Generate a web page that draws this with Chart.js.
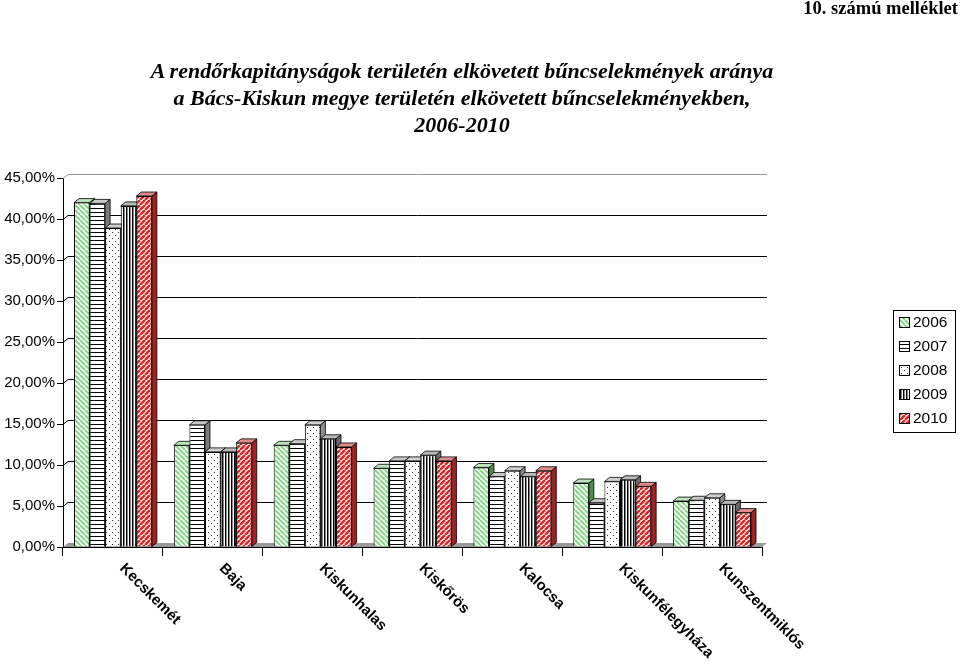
<!DOCTYPE html>
<html>
<head>
<meta charset="utf-8">
<script src="https://cdn.jsdelivr.net/npm/chart.js@4"></script>
<style>
  html, body { margin: 0; padding: 0; background: #fff; }
  #wrap { position: relative; width: 960px; height: 665px; }
  #annex {
    position: absolute; right: 2px; top: -2px;
    font: bold 18.5px "Liberation Serif", "Times New Roman", serif;
  }
  #title {
    position: absolute; left: -138px; top: 57px; width: 1200px;
    text-align: center; white-space: nowrap;
    font: bold italic 22px/27px "Liberation Serif", "Times New Roman", serif;
  }
  canvas { position: absolute; left: 0; top: 0; }
</style>
</head>
<body>
<div id="wrap">
  <canvas id="chart" width="960" height="665"></canvas>
  <div id="annex">10. számú melléklet</div>
  <div id="title">A rendőrkapitányságok területén elkövetett bűncselekmények aránya<br>a Bács-Kiskun megye területén elkövetett bűncselekményekben,<br>2006-2010</div>
</div>
<script>
/* ---------- data (share of county crimes, %) ---------- */
const categories = ["Kecskemét", "Baja", "Kiskunhalas", "Kiskőrös", "Kalocsa", "Kiskunfélegyháza", "Kunszentmiklós"];
const years = ["2006", "2007", "2008", "2009", "2010"];
const share2006 = [42.0, 12.4, 12.4, 9.6, 9.7, 7.8, 5.6];
const share2007 = [41.9, 14.9, 12.6, 10.5, 8.6, 5.4, 5.7];
const share2008 = [38.9, 11.6, 14.9, 10.5, 9.3, 8.0, 6.0];
const share2009 = [41.6, 11.6, 13.2, 11.2, 8.6, 8.2, 5.2];
const share2010 = [42.8, 12.7, 12.2, 10.5, 9.3, 7.4, 4.2];
const yMax = 45;
const yStep = 5;

const series = [share2006, share2007, share2008, share2009, share2010];

/* ---------- fill patterns (Excel-like hatches) ---------- */
function makePattern(kind) {
    const c = document.createElement("canvas");
    const s = kind === "vert" ? 3 : (kind === "horiz" ? 4 : (kind === "dots" ? 6 : 5));
    c.width = s; c.height = s;
    const g = c.getContext("2d");
    g.fillStyle = "#fff";
    g.fillRect(0, 0, s, s);
    if (kind === "green" || kind === "red") {
        g.strokeStyle = kind === "green" ? "#86d486" : "#d42a2a";
        g.lineWidth = kind === "green" ? 2 : 2.6;
        for (let k = -s; k <= 2 * s; k += s) {
            g.beginPath();
            if (kind === "green") { g.moveTo(k, 0); g.lineTo(k + s, s); }
            else { g.moveTo(k, s); g.lineTo(k + s, 0); }
            g.stroke();
        }
    } else if (kind === "horiz") {
        g.fillStyle = "#000";
        g.fillRect(0, 0, s, 1);
    } else if (kind === "dots") {
        g.fillStyle = "#333";
        g.fillRect(1, 1, 1, 1);
        g.fillRect(4, 4, 1, 1);
    } else if (kind === "vert") {
        g.fillStyle = "#000";
        g.fillRect(0, 0, 1, s);
        g.fillStyle = "#888";
        g.fillRect(1, 0, 1, s);
    }
    return g.createPattern(c, "repeat");
}

const fills = ["green", "horiz", "dots", "vert", "red"].map(makePattern);
const topColors  = ["#b9e3b9", "#c8c8c8", "#d0d0d0", "#b8b8b8", "#e08a8a"];
const sideColors = ["#4f8a4f", "#7a7a7a", "#8c8c8c", "#6a6a6a", "#9c2424"];
const DX = 5, DY = 4;   // 3D depth offset

/* ---------- 3D look: back wall grid, floor, bar tops and sides ---------- */
const depthPlugin = {
    id: "depth",
    beforeDatasetsDraw(chart) {
        const ctx = chart.ctx;
        const a = chart.chartArea;
        const ys = chart.scales.y;
        ctx.save();
        // floor
        ctx.fillStyle = "#9a9a9a";
        ctx.beginPath();
        ctx.moveTo(a.left, a.bottom);
        ctx.lineTo(a.right, a.bottom);
        ctx.lineTo(a.right + DX, a.bottom - DY);
        ctx.lineTo(a.left + DX, a.bottom - DY);
        ctx.closePath();
        ctx.fill();
        // back wall grid
        for (let v = yStep; v <= yMax; v += yStep) {
            const y = Math.round(ys.getPixelForValue(v) - DY) + 0.5;
            ctx.strokeStyle = v === yMax ? "#999" : "#000";
            ctx.lineWidth = 1;
            ctx.beginPath();
            ctx.moveTo(a.left, y + DY);
            ctx.lineTo(a.left + DX, y);
            ctx.lineTo(a.right + DX, y);
            ctx.stroke();
        }
        // bar tops and sides
        chart.data.datasets.forEach((ds, i) => {
            const meta = chart.getDatasetMeta(i);
            meta.data.forEach(bar => {
                const l = bar.x - bar.width / 2, r = bar.x + bar.width / 2;
                ctx.strokeStyle = "#000";
                ctx.lineWidth = 0.8;
                ctx.fillStyle = sideColors[i];
                ctx.beginPath();
                ctx.moveTo(r, bar.y);
                ctx.lineTo(r + DX, bar.y - DY);
                ctx.lineTo(r + DX, bar.base - DY);
                ctx.lineTo(r, bar.base);
                ctx.closePath();
                ctx.fill(); ctx.stroke();
                ctx.fillStyle = topColors[i];
                ctx.beginPath();
                ctx.moveTo(l, bar.y);
                ctx.lineTo(r, bar.y);
                ctx.lineTo(r + DX, bar.y - DY);
                ctx.lineTo(l + DX, bar.y - DY);
                ctx.closePath();
                ctx.fill(); ctx.stroke();
            });
        });
        ctx.restore();
    },
    afterDraw(chart) {
        const ctx = chart.ctx;
        const xs = chart.scales.x;
        ctx.save();
        // slanted category labels
        ctx.font = "bold 15px 'Liberation Sans', Arial, sans-serif";
        ctx.fillStyle = "#000";
        ctx.textAlign = "left";
        ctx.textBaseline = "middle";
        categories.forEach((name, i) => {
            ctx.save();
            ctx.translate(xs.getPixelForValue(i) + 9, chart.chartArea.bottom + 19);
            ctx.rotate(Math.PI / 4);
            ctx.fillText(name, 0, 0);
            ctx.restore();
        });
        // legend box
        const lx = 893, ly = 310;
        ctx.strokeStyle = "#000";
        ctx.lineWidth = 1;
        ctx.strokeRect(lx + 0.5, ly + 0.5, 62, 122);
        ctx.font = "15.5px 'Liberation Sans', Arial, sans-serif";
        years.forEach((yr, i) => {
            const cy = ly + 12 + i * 24;
            ctx.fillStyle = fills[i];
            ctx.fillRect(lx + 6, cy - 5, 10, 10);
            ctx.strokeRect(lx + 6.5, cy - 4.5, 10, 10);
            ctx.fillStyle = "#000";
            ctx.fillText(yr, lx + 20, cy + 1);
        });
        ctx.restore();
    }
};

/* ---------- chart ---------- */
new Chart(document.getElementById("chart"), {
    type: "bar",
    data: {
        labels: categories,
        datasets: years.map((yr, i) => ({
            label: yr,
            data: series[i],
            backgroundColor: fills[i],
            borderColor: "#000",
            borderWidth: 1,
            barPercentage: 1,
            categoryPercentage: 0.78
        }))
    },
    options: {
        responsive: false,
        animation: false,
        layout: { padding: { top: 178, right: 198, left: 0, bottom: 0 } },
        plugins: { legend: { display: false }, tooltip: { enabled: false } },
        scales: {
            x: {
                ticks: { display: false },
                grid: { drawOnChartArea: false, drawTicks: true, tickLength: 9, color: "#000", offset: true },
                border: { color: "#000" },
                afterFit(s) { s.height = 118; }
            },
            y: {
                min: 0, max: yMax,
                ticks: {
                    stepSize: yStep, color: "#000", padding: 2,
                    font: { family: "'Liberation Sans', Arial, sans-serif", size: 15 },
                    callback: v => v.toFixed(2).replace(".", ",") + "%"
                },
                grid: { drawOnChartArea: false, drawTicks: true, tickLength: 6, color: "#000" },
                border: { color: "#000" },
                afterFit(s) { s.width = 63; }
            }
        }
    },
    plugins: [depthPlugin]
});
</script>
</body>
</html>
